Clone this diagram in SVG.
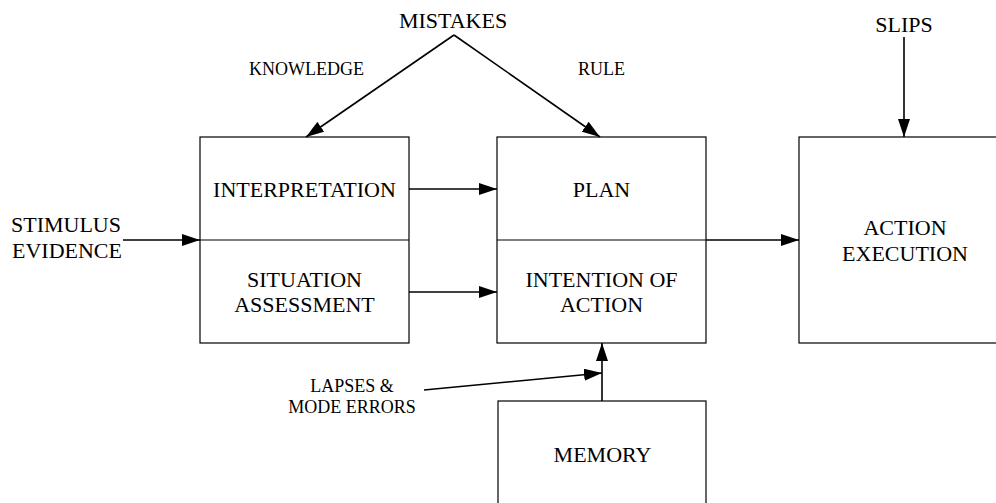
<svg xmlns="http://www.w3.org/2000/svg" width="996" height="503" viewBox="0 0 996 503">
  <style>
    .box { fill: none; stroke: #000; stroke-width: 1.2; }
    .div { stroke: #000; stroke-width: 1.2; }
    text { font-family: "Liberation Serif", "Times New Roman", Times, "DejaVu Serif", serif; fill: #000; text-anchor: middle; }
    .big { font-size: 22px; }
    .small { font-size: 18px; }
    .arrow { fill: none; stroke: #000; stroke-width: 1.6; marker-end: url(#head); }
  </style>
  <defs>
    <marker id="head" markerUnits="userSpaceOnUse" markerWidth="18" markerHeight="12" refX="18" refY="6" orient="auto">
      <path d="M0,0 L18,6 L0,12 Z" fill="#000"/>
    </marker>
  </defs>
  <rect width="996" height="503" fill="#fff"/>

  <!-- Nodes -->
  <g id="assessment">
    <rect class="box" x="200" y="137" width="209" height="206"/>
    <line class="div" x1="200" y1="240" x2="409" y2="240"/>
    <text class="big" x="304.5" y="197">INTERPRETATION</text>
    <text class="big" x="304.5" y="287">SITUATION</text>
    <text class="big" x="304.5" y="312">ASSESSMENT</text>
  </g>
  <g id="planning">
    <rect class="box" x="497" y="137" width="209" height="206"/>
    <line class="div" x1="497" y1="240" x2="706" y2="240"/>
    <text class="big" x="601.5" y="197">PLAN</text>
    <text class="big" x="601.5" y="287">INTENTION OF</text>
    <text class="big" x="601.5" y="312">ACTION</text>
  </g>
  <g id="execution">
    <rect class="box" x="799" y="137" width="220" height="206"/>
    <text class="big" x="905" y="235">ACTION</text>
    <text class="big" x="905" y="261">EXECUTION</text>
  </g>
  <g id="memory">
    <rect class="box" x="498" y="401" width="208" height="120"/>
    <text class="big" x="602.5" y="462">MEMORY</text>
  </g>

  <!-- Labels -->
  <g id="stimulus">
    <text class="big" x="66" y="232">STIMULUS</text>
    <text class="big" x="67" y="258">EVIDENCE</text>
  </g>
  <g id="mistakes">
    <text class="big" x="453" y="28">MISTAKES</text>
  </g>
  <g id="knowledge">
    <text class="small" x="306.5" y="75">KNOWLEDGE</text>
  </g>
  <g id="rule">
    <text class="small" x="601.5" y="75">RULE</text>
  </g>
  <g id="slips">
    <text class="big" x="904" y="32">SLIPS</text>
  </g>
  <g id="lapses">
    <text class="small" x="352" y="392">LAPSES &amp;</text>
    <text class="small" x="352" y="413">MODE ERRORS</text>
  </g>

  <!-- Connectors -->
  <g id="connectors">
    <line class="arrow" x1="123" y1="240" x2="200" y2="240"/>
    <line class="arrow" x1="409" y1="189" x2="497" y2="189"/>
    <line class="arrow" x1="409" y1="292" x2="497" y2="292"/>
    <line class="arrow" x1="706" y1="240" x2="799" y2="240"/>
    <line class="arrow" x1="454" y1="35" x2="306" y2="137"/>
    <line class="arrow" x1="454" y1="35" x2="600" y2="137"/>
    <line class="arrow" x1="904" y1="37" x2="904" y2="137"/>
    <line class="arrow" x1="602" y1="401" x2="602" y2="343"/>
    <line class="arrow" x1="424" y1="390" x2="602" y2="373"/>
  </g>
</svg>
